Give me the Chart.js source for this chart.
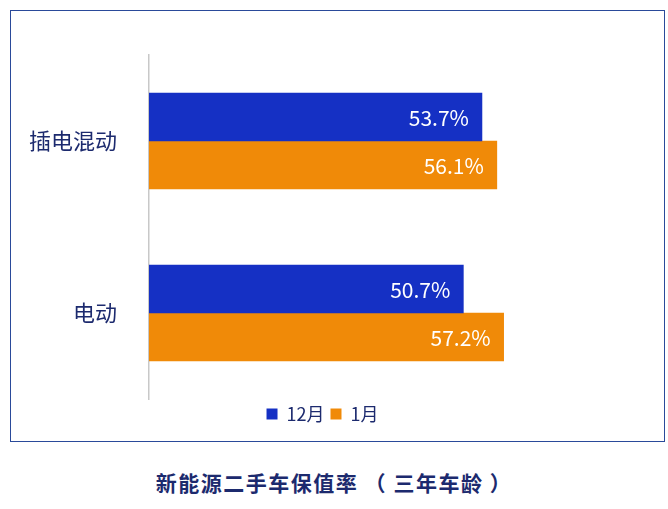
<!DOCTYPE html>
<html><head><meta charset="utf-8">
<script src="https://cdn.jsdelivr.net/npm/chart.js@4"></script>
<style>
body{margin:0;background:#fff;font-family:"Noto Sans CJK SC",sans-serif;}
#frame{position:absolute;left:10px;top:10px;width:653px;height:430px;border:1.5px solid #2a4a9a;}
#title{position:absolute;left:0;top:467px;width:668px;text-align:center;font-size:21px;font-weight:bold;color:#1c2a6e;letter-spacing:1.5px;}
#wrap{position:absolute;left:0;top:0;width:668px;height:509px;}
</style></head>
<body>
<div id="frame"></div>
<div id="title">新能源二手车保值率 （ 三年车龄 ）</div>
<div id="wrap"><canvas id="c" width="668" height="509"></canvas></div>
<script>
var categories = ["插电混动", "电动"];
var dec = [53.7, 50.7];
var jan = [56.1, 57.2];
var seriesNames = ["12月", "1月"];

var labelPlugin = {
    id: 'valLabels',
    afterDatasetsDraw: function (chart) {
        var ctx = chart.ctx;
        ctx.save();
        ctx.fillStyle = '#fff';
        ctx.font = '21px "Noto Sans CJK SC"';
        ctx.textAlign = 'right';
        ctx.textBaseline = 'middle';
        chart.data.datasets.forEach(function (ds, i) {
            chart.getDatasetMeta(i).data.forEach(function (bar, j) {
                ctx.fillText(ds.data[j].toFixed(1) + '%', bar.x - 13, bar.y + 1);
            });
        });
        ctx.restore();
    }
};

new Chart(document.getElementById('c'), {
    type: 'bar',
    data: {
        labels: categories,
        datasets: [
            {label: seriesNames[0], data: dec, backgroundColor: '#1530c4', barThickness: 48},
            {label: seriesNames[1], data: jan, backgroundColor: '#f08a08', barThickness: 48}
        ]
    },
    options: {
        indexAxis: 'y',
        responsive: false,
        animation: false,
        layout: {padding: {top: 55, right: 23, bottom: 76, left: 0}},
        scales: {
            x: {display: false, min: 0, max: 80},
            y: {
                afterFit: function (s) { s.width = 149; },
                grid: {display: false},
                border: {color: '#c8c8c8', width: 1.5},
                ticks: {color: '#1c2a6e', font: {size: 22, family: '"Noto Sans CJK SC"'}, padding: 24}
            }
        },
        plugins: {
            legend: {
                position: 'bottom',
                labels: {boxWidth: 11, boxHeight: 11, color: '#1c2a6e', padding: 6,
                    font: {size: 18, family: '"Noto Sans CJK SC"'}}
            },
            tooltip: {enabled: false}
        }
    },
    plugins: [labelPlugin]
});
</script>
</body></html>
